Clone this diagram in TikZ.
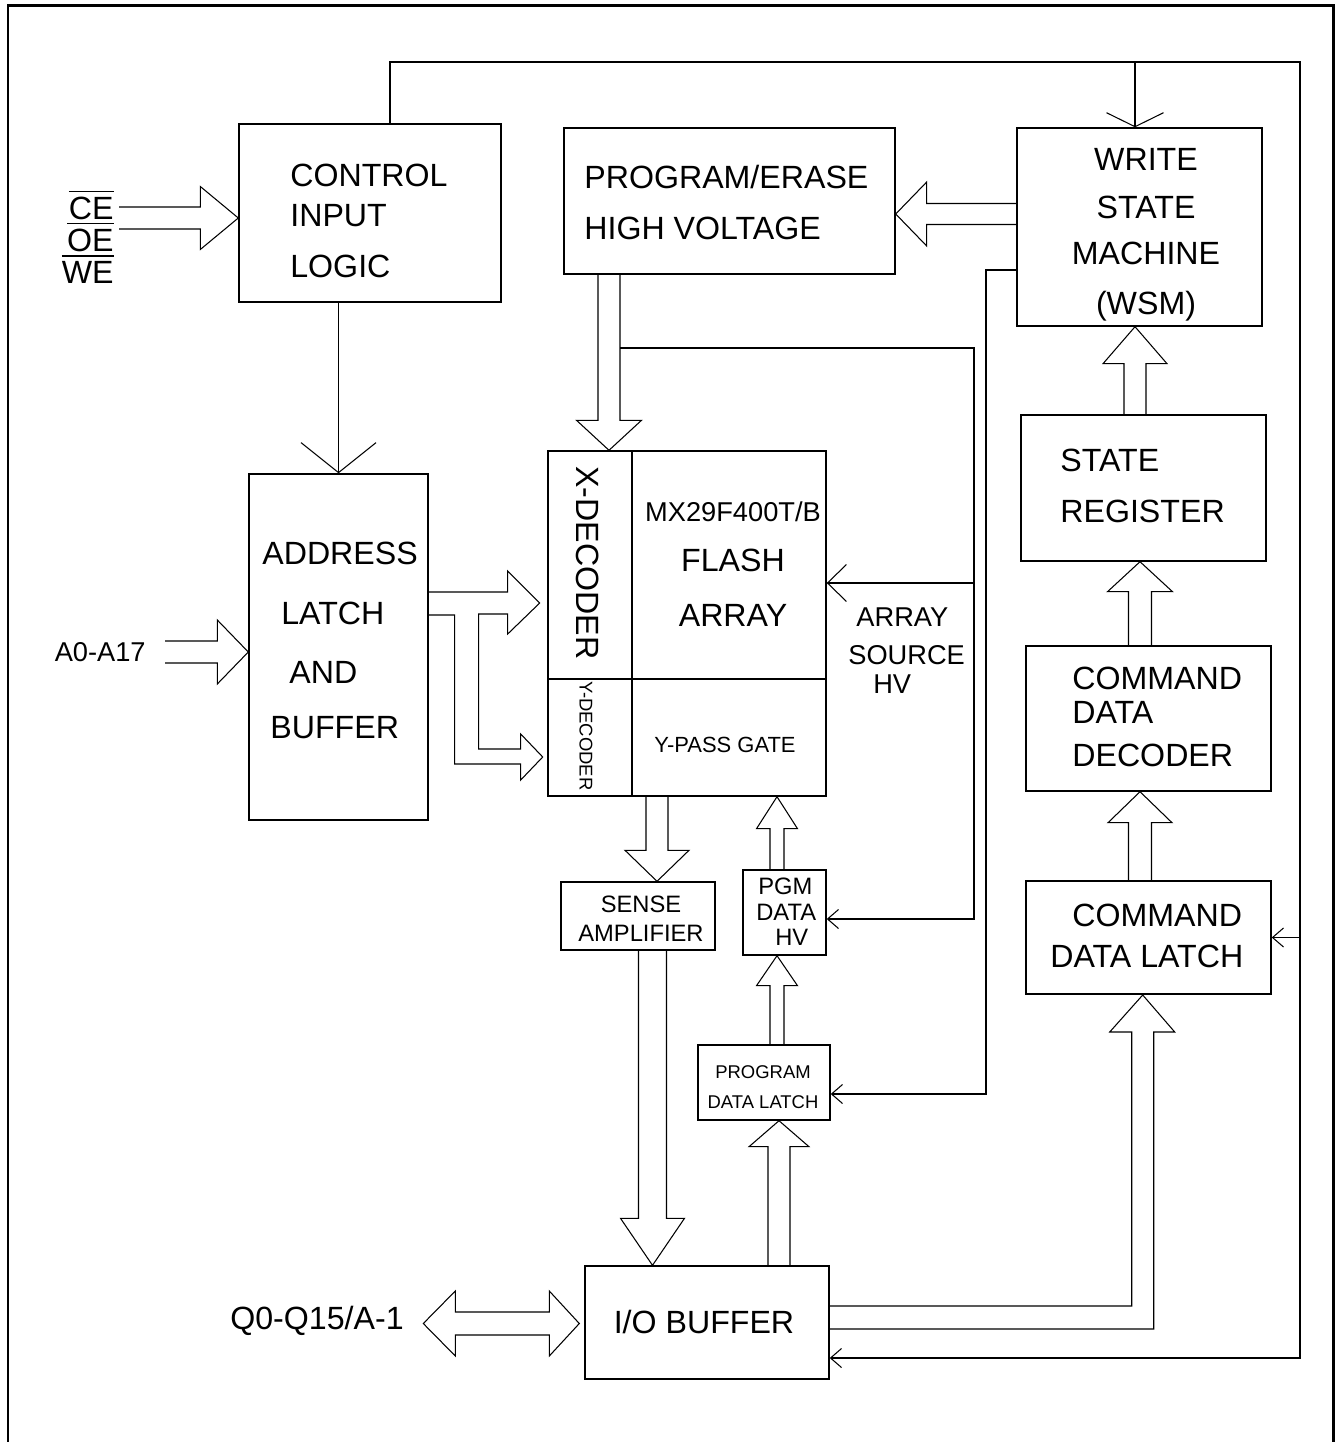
\documentclass[tikz,border=0pt]{standalone}
\usepackage{fontspec}
\setmainfont{Liberation Sans}
\usetikzlibrary{arrows.meta, fit, calc}
% wide hollow bus arrow: tail, tip, half shaft, half head, head length (px)
\newcommand{\busarrow}[5]{%
  \path (#1) coordinate (bt) (#2) coordinate (bp);
  \coordinate (bh) at ($(bp)!#5*0.02cm!(bt)$);
  \draw[bus] ($(bt)!#3*0.02cm!90:(bp)$) -- ($(bh)!#3*0.02cm!90:(bp)$)
    -- ($(bh)!#4*0.02cm!90:(bp)$) -- (bp)
    -- ($(bh)!#4*0.02cm!-90:(bp)$) -- ($(bh)!#3*0.02cm!-90:(bp)$)
    -- ($(bt)!#3*0.02cm!-90:(bp)$);}
\newcommand{\ovl}[1]{\leavevmode\vbox{\hrule height 0.8pt\kern 3pt\hbox{#1}}}

\begin{document}
\begin{tikzpicture}[
    x=0.02cm, y=-0.02cm,
    box/.style={draw, line width=0.8pt, inner sep=0pt},
    bus/.style={line width=0.6pt, line join=miter},
    sig/.style={line width=0.6pt, -{Straight Barb[length=0.22cm, width=0.38cm]}},
    txtbig/.style={font=\fontsize{18.3}{20}\selectfont, inner sep=0pt},
    txtmid/.style={font=\fontsize{15.5}{16}\selectfont, inner sep=0pt},
    txtsm/.style={font=\fontsize{13.5}{14}\selectfont, inner sep=0pt},
    txttiny/.style={font=\fontsize{10.5}{11}\selectfont, inner sep=0pt},
]
\useasboundingbox (0,0) rectangle (1338,1442);
\draw[line width=1.7pt] (8,1460) -- (8,6) -- (1333,6) -- (1333,1460);

% blocks
\node[box, fit={(239,124) (501,302)}] (cil) {};
\node[box, fit={(564,128) (895,274)}] (pehv) {};
\node[box, fit={(1017,128) (1262,326)}] (wsm) {};
\node[box, fit={(249,474) (428,820)}] (alb) {};
\node[box, fit={(548,451) (632,679)}] (xdec) {};
\node[box, fit={(632,451) (826,679)}] (farr) {};
\node[box, fit={(548,679) (632,796)}] (ydec) {};
\node[box, fit={(632,679) (826,796)}] (ypass) {};
\node[box, fit={(1021,415) (1266,561)}] (streg) {};
\node[box, fit={(1026,646) (1271,791)}] (cdd) {};
\node[box, fit={(1026,881) (1271,994)}] (cdl) {};
\node[box, fit={(561,882) (715,950)}] (sense) {};
\node[box, fit={(743,870) (826,955)}] (pgmhv) {};
\node[box, fit={(698,1045) (830,1120)}] (pdl) {};
\node[box, fit={(585,1266) (829,1379)}] (iob) {};

% texts
\node[txtbig, anchor=base east] (ce) at (114,220) {\ovl{CE}};
\node[txtbig, anchor=base east] (oe) at (114,252) {\ovl{OE}};
\node[txtbig, anchor=base east] (we) at (114,284) {\ovl{WE}};
\node[txtmid, anchor=east] (addr) at (146,652) {A0-A17};
\node[txtbig, anchor=east] (qio) at (404,1321) {Q0-Q15/A-1};
\node[txtbig, align=left, anchor=west] (ciltxt) at (290,220.5) {CONTROL\\[2.8pt]INPUT\\[9pt]LOGIC};
\node[txtbig, align=left, anchor=west] (pehvtxt) at (584,202.5) {PROGRAM/ERASE\\[9pt]HIGH VOLTAGE};
\node[txtbig, align=center] (wsmtxt) at (1146,234.4) {WRITE\\[7.3pt]STATE\\[6.2pt]MACHINE\\[8.5pt](WSM)};
\node[txtbig, align=left, anchor=west] (albtxt) at (262,640)
  {ADDRESS\\[14.1pt]\hspace*{10.8pt}LATCH\\[13.6pt]\hspace*{15.4pt}AND\\[11.3pt]\hspace*{4.6pt}BUFFER};
\node[txtmid] (chip) at (733,512) {MX29F400T/B};
\node[txtbig, align=center] (farrtxt) at (733,587.5) {FLASH\\[11.3pt]ARRAY};
\node[txtbig, rotate=-90] (xdectxt) at (588,563) {X-DECODER};
\node[txttiny, rotate=-90] (ydectxt) at (586,736) {Y-DECODER};
\node[font=\fontsize{12.5}{13}\selectfont, inner sep=0pt] (ypasstxt) at (725,745) {Y-PASS GATE};
\node[txtmid, align=left, anchor=west] (astxt) at (848,650.5)
  {\hspace*{4.6pt}ARRAY\\[5.6pt]SOURCE\\[0.5pt]\hspace*{14.2pt}HV};
\node[txtbig, align=left, anchor=west] (stregtxt) at (1060,485.5) {STATE\\[9pt]REGISTER};
\node[txtbig, align=left, anchor=west] (cddtxt) at (1072,717) {COMMAND\\[-0.7pt]DATA\\[5pt]DECODER};
\node[txtbig, align=left, anchor=west] (cdltxt) at (1050,935.5) {\hspace*{12.5pt}COMMAND\\[3.3pt]DATA LATCH};
\node[txtsm, align=center] (sensetxt) at (641,918.5) {SENSE\\[2.5pt]AMPLIFIER};
\node[txtsm, align=left, anchor=west] (pgmtxt) at (756,911.5) {\hspace*{1.1pt}PGM\\[0.8pt]DATA\\[0.2pt]\hspace*{10.8pt}HV};
\node[txttiny, align=center] (pdltxt) at (763,1087) {PROGRAM\\[6.1pt]DATA LATCH};
\node[txtbig] (iobtxt) at (704,1322) {I/O BUFFER};

% bus arrows
\coordinate (ctlin) at (119,218);
\coordinate (ain) at (165,652);
\coordinate (xhv) at (609,0);
\coordinate (xsw) at (1135,0);
\coordinate (xcmd) at (1140,0);
\coordinate (xsa) at (657,0);
\coordinate (xio) at (652.5,0);
\coordinate (xpgm) at (777,0);
\coordinate (xpdl) at (779,0);
\coordinate (wp) at ($(wsm.west)!0.5!(pehv.east)$);
\busarrow{ctlin}{ctlin -| cil.west}{11}{31.5}{38}
\busarrow{ain}{ain -| alb.west}{11}{32}{31}
\busarrow{xhv |- pehv.south}{xhv |- xdec.north}{11}{32.5}{30}
\busarrow{wp -| wsm.west}{wp -| pehv.east}{10.5}{32}{31}
\busarrow{xsw |- streg.north}{xsw |- wsm.south}{11}{32}{37}
\busarrow{xcmd |- cdd.north}{xcmd |- streg.south}{11.5}{32.5}{30}
\busarrow{xcmd |- cdl.north}{xcmd |- cdd.south}{11.5}{32}{31}
\busarrow{xsa |- ypass.south}{xsa |- sense.north}{11}{32}{31}
\busarrow{xio |- sense.south}{xio |- iob.north}{14}{32}{47}
\busarrow{xpgm |- pgmhv.north}{xpgm |- ypass.south}{7}{20.5}{32}
\busarrow{xpgm |- pdl.north}{xpgm |- pgmhv.south}{7}{20.5}{30}
\busarrow{xpdl |- iob.north}{xpdl |- pdl.south}{11}{30}{26}
% address to X- and Y-decoder
\draw[bus] (alb.east) ++(0,-55) -- ++(79,0) -- ++(0,-21) -- ++(32,32) -- ++(-32,31)
  -- ++(0,-20) -- ++(-29,0) -- ++(0,135) -- ++(42,0) -- ++(0,-15) -- ++(22,23)
  -- ++(-22,23) -- ++(0,-16) -- ++(-66,0) -- ++(0,-149) -- ++(-26,0);
% I/O buffer to command data latch
\draw[bus] (iob.east) ++(0,-16.5) -- ++(302,0) -- ++(0,-274) -- ++(-22,0) -- ++(33,-37)
  -- ++(32,37) -- ++(-21,0) -- ++(0,297) -- ++(-324,0);
% data in/out
\draw[bus] (iob.west) ++(-129,-10.5) -- ++(94,0) -- ++(0,-21) -- ++(30,32.5) -- ++(-30,32.5)
  -- ++(0,-21) -- ++(-94,0) -- ++(0,21) -- ++(-32,-32.5) -- ++(32,-32.5) -- cycle;

% control lines
\coordinate (ttl) at (390,62);
\coordinate (ttr) at (1300,62);
\coordinate (tbr) at (1300,1358);
\draw[sig] (ttl |- cil.north) -- (ttl) -- (ttr) -- (tbr) -- (tbr -| iob.east);
\draw[sig, -{Straight Barb[length=0.28cm, width=1.14cm]}] (xsw |- ttl) -- (xsw |- wsm.north);
\draw[sig] (ttr |- cdl.east) -- (cdl.east);
\draw[sig, -{Straight Barb[length=0.6cm, width=1.5cm]}] (alb.north |- cil.south) -- (alb.north);
% high voltage lines
\coordinate (hvl) at (620,348);
\coordinate (hvr) at (974,348);
\coordinate (asj) at (974,583);
\coordinate (pgj) at (974,919);
\draw[sig] (hvl) -- (hvr) -- (pgj) -- (pgj -| pgmhv.east);
\draw[sig, -{Straight Barb[length=0.38cm, width=0.74cm]}] (asj) -- (asj -| farr.east);
% WSM to program data latch
\coordinate (wsl) at (986,270);
\coordinate (wsd) at (986,1094);
\draw[sig] (wsl -| wsm.west) -- (wsl) -- (wsd) -- (wsd -| pdl.east);
\end{tikzpicture}
\end{document}
